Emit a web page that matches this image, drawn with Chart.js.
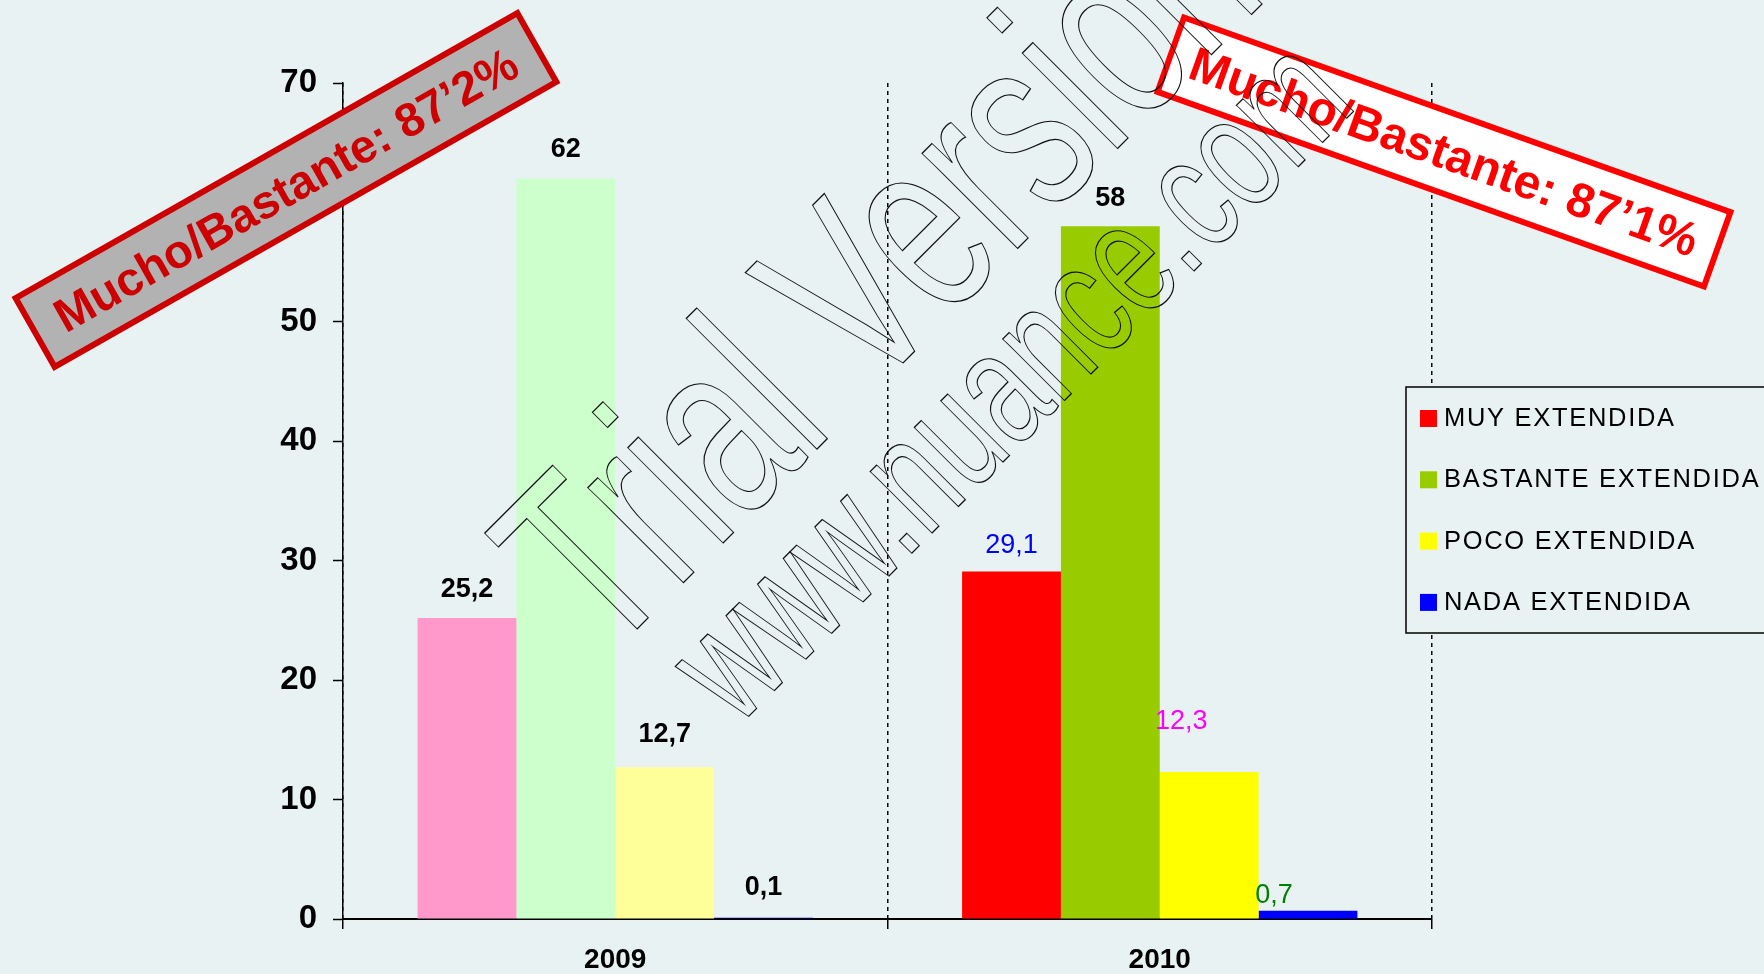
<!DOCTYPE html>
<html>
<head>
<meta charset="utf-8">
<script src="https://cdn.jsdelivr.net/npm/chart.js@4.4.1/dist/chart.umd.min.js"></script>
<style>
  html, body { margin: 0; padding: 0; background: #E9F2F2; }
  #wrap { width: 1764px; height: 974px; }
</style>
</head>
<body>
<div id="wrap"><canvas id="chart" width="1764" height="974"></canvas></div>
<script>
// data
const years = ["2009", "2010"];
const seriesLabels = ["MUY EXTENDIDA", "BASTANTE EXTENDIDA", "POCO EXTENDIDA", "NADA EXTENDIDA"];
const muyValues = [25.2, 29.1];
const bastanteValues = [62, 58];
const pocoValues = [12.7, 12.3];
const nadaValues = [0.1, 0.7];
const yTicks = [0, 10, 20, 30, 40, 50, 60, 70];
const bannerTexts = ["Mucho/Bastante: 87\u20192%", "Mucho/Bastante: 87\u20191%"];
const watermarkLines = ["Trial Version", "www.nuance.com"];

// styles
const FONT = '"Liberation Sans", Arial, sans-serif';
const BAR_COLORS = [
  ["#FF99CC", "#FF0000"],
  ["#CCFFCC", "#99CC00"],
  ["#FFFF99", "#FFFF00"],
  ["#000080", "#0000FF"],
];
const LEGEND_COLORS = ["#FF0000", "#99CC00", "#FFFF00", "#0000FF"];
// per series, per year: [color, bold, dx, gap above bar top]
const LABEL_STYLE = [
  [["#000", true, 0, 28], ["#0000FF", false, 0, 26]],
  [["#000", true, 0, 29], ["#000", true, 0, 28]],
  [["#000", true, 0, 33], ["#FF00FF", false, -28, 51]],
  [["#000", true, 0, 30], ["#008000", false, -34, 15]],
];

const seriesValues = [muyValues, bastanteValues, pocoValues, nadaValues];

const valueLabels = {
  id: "valueLabels",
  afterDatasetsDraw(chart) {
    const ctx = chart.ctx;
    chart.data.datasets.forEach((ds, i) => {
      chart.getDatasetMeta(i).data.forEach((bar, j) => {
        const [color, bold, dx, gap] = LABEL_STYLE[i][j];
        ctx.save();
        ctx.font = (bold ? "bold " : "") + "27px " + FONT;
        ctx.fillStyle = color;
        ctx.textAlign = "center";
        ctx.textBaseline = "middle";
        ctx.fillText(String(ds.data[j]).replace(".", ","), bar.x + dx, bar.y - gap);
        ctx.restore();
      });
    });
  }
};

function drawBanner(ctx, text, cx, cy, w, h, angle, fill, color, size) {
  ctx.save();
  ctx.translate(cx, cy);
  ctx.rotate(angle * Math.PI / 180);
  ctx.fillStyle = fill;
  ctx.fillRect(-w / 2, -h / 2, w, h);
  ctx.lineWidth = 6;
  ctx.strokeStyle = color;
  ctx.strokeRect(-w / 2, -h / 2, w, h);
  ctx.font = "bold " + size + "px " + FONT;
  ctx.fillStyle = color;
  ctx.textAlign = "center";
  ctx.textBaseline = "middle";
  ctx.fillText(text, 0, 3);
  ctx.restore();
}

function drawOutline(ctx, text, ox, oy, size, sx) {
  ctx.save();
  ctx.translate(ox, oy);
  ctx.rotate(-Math.PI / 4);
  ctx.scale(sx, 1);
  ctx.font = size + "px " + FONT;
  ctx.lineWidth = 1.3;
  ctx.strokeStyle = "#111";
  ctx.strokeText(text, 0, 0);
  ctx.restore();
}

const overlays = {
  id: "overlays",
  afterDraw(chart) {
    const ctx = chart.ctx;
    // legend box
    ctx.save();
    ctx.fillStyle = "#E9F2F2";
    ctx.fillRect(1406, 387, 400, 246);
    ctx.lineWidth = 1.5;
    ctx.strokeStyle = "#000";
    ctx.strokeRect(1406, 387, 400, 246);
    ctx.font = "25.5px " + FONT;
    ctx.letterSpacing = "1.7px";
    ctx.textBaseline = "middle";
    chart.data.datasets.forEach((ds, i) => {
      const y = 418 + i * 61.3;
      ctx.fillStyle = LEGEND_COLORS[i];
      ctx.fillRect(1420, y - 8, 17, 17);
      ctx.fillStyle = "#000";
      ctx.fillText(ds.label, 1444, y + 1);
    });
    ctx.restore();

    drawBanner(ctx, bannerTexts[0], 286, 190, 577, 79, -29.6, "#B2B2B2", "#CC0000", 47);
    drawBanner(ctx, bannerTexts[1], 1444, 152, 580, 79, 19.6, "#FFFFFF", "#FF0000", 48);

    drawOutline(ctx, watermarkLines[0], 606, 660, 255, 0.667);
    drawOutline(ctx, watermarkLines[1], 737, 728, 165, 0.68);
  }
};

new Chart(document.getElementById("chart"), {
  type: "bar",
  data: {
    labels: years,
    datasets: seriesLabels.map((label, i) => ({
      label,
      data: seriesValues[i],
      backgroundColor: BAR_COLORS[i],
      borderWidth: 0,
      categoryPercentage: 0.726,
      barPercentage: 1,
    }))
  },
  options: {
    responsive: false,
    animation: false,
    devicePixelRatio: 1,
    layout: { padding: { top: 83, right: 332, left: 0, bottom: 0 } },
    plugins: { legend: { display: false }, tooltip: { enabled: false } },
    scales: {
      x: {
        offset: true,
        grid: { display: true, offset: true, drawOnChartArea: true, color: "#000", lineWidth: 1.5,
                tickLength: 10, tickColor: "#000", tickWidth: 1.5, tickBorderDash: [] },
        border: { display: true, color: "#000", width: 2, dash: [4, 4] },
        ticks: { color: "#000", padding: 14, font: { family: FONT, size: 28, weight: "bold" } },
        afterFit(scale) { scale.height = 55; }
      },
      y: {
        min: 0,
        max: 70,
        afterBuildTicks(scale) { scale.ticks = yTicks.map(v => ({ value: v })); },
        grid: { display: true, drawOnChartArea: false, color: "#000", tickLength: 10, tickColor: "#000", tickWidth: 1.5 },
        border: { display: true, color: "#000", width: 1.5 },
        ticks: { color: "#000", padding: 16, font: { family: FONT, size: 33, weight: "bold" } },
        afterFit(scale) { scale.width = 343; }
      }
    }
  },
  plugins: [valueLabels, overlays]
});
</script>
</body>
</html>
